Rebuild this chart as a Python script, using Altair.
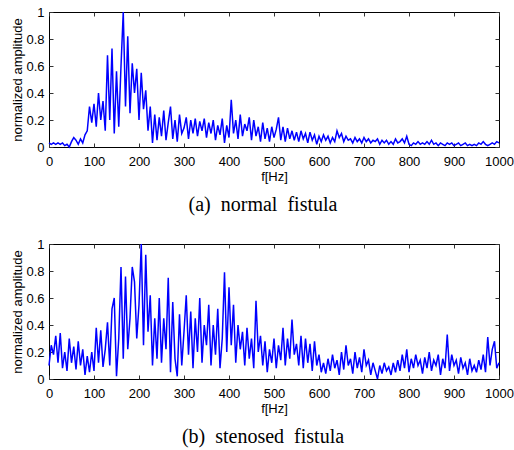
import altair as alt
import pandas as pd

freq = list(range(0, 1001, 5))

normal_amp = [
    0.03, 0.02, 0.03, 0.02, 0.03, 0.02, 0.03, 0.01, 0.02, 0.00,
    0.04, 0.07, 0.05, 0.02, 0.06, 0.03, 0.09, 0.12, 0.30, 0.18,
    0.32, 0.15, 0.40, 0.20, 0.34, 0.12, 0.68, 0.20, 0.73, 0.10,
    0.56, 0.15, 0.60, 1.00, 0.30, 0.82, 0.25, 0.62, 0.40, 0.58,
    0.20, 0.55, 0.28, 0.42, 0.12, 0.30, 0.03, 0.24, 0.05, 0.22,
    0.08, 0.27, 0.05, 0.18, 0.30, 0.06, 0.20, 0.04, 0.24, 0.10,
    0.14, 0.22, 0.06, 0.20, 0.10, 0.21, 0.08, 0.19, 0.12, 0.21,
    0.07, 0.18, 0.10, 0.20, 0.05, 0.16, 0.09, 0.21, 0.03, 0.16,
    0.07, 0.35, 0.10, 0.20, 0.06, 0.24, 0.08, 0.17, 0.12, 0.22,
    0.05, 0.20, 0.08, 0.15, 0.04, 0.18, 0.06, 0.14, 0.04, 0.15,
    0.07, 0.13, 0.22, 0.05, 0.15, 0.04, 0.14, 0.06, 0.12, 0.05,
    0.11, 0.04, 0.12, 0.06, 0.10, 0.03, 0.11, 0.05, 0.09, 0.02,
    0.08, 0.04, 0.09, 0.05, 0.08, 0.03, 0.07, 0.04, 0.12, 0.07,
    0.10, 0.04, 0.08, 0.05, 0.06, 0.03, 0.07, 0.04, 0.06, 0.03,
    0.07, 0.04, 0.06, 0.03, 0.05, 0.04, 0.06, 0.02, 0.05, 0.03,
    0.05, 0.02, 0.04, 0.02, 0.06, 0.03, 0.04, 0.06, 0.03, 0.08,
    0.02, 0.01, 0.03, 0.02, 0.04, 0.02, 0.03, 0.02, 0.04, 0.02,
    0.05, 0.02, 0.03, 0.01, 0.03, 0.02, 0.01, 0.03, 0.02, 0.03,
    0.01, 0.02, 0.03, 0.01, 0.02, 0.03, 0.01, 0.02, 0.01, 0.02,
    0.01, 0.03, 0.02, 0.04, 0.02, 0.01, 0.02, 0.03, 0.02, 0.04,
    0.03,
]

stenosed_amp = [
    0.10, 0.25, 0.18, 0.32, 0.12, 0.34, 0.08, 0.20, 0.06, 0.30,
    0.12, 0.24, 0.07, 0.28, 0.10, 0.22, 0.03, 0.17, 0.05, 0.20,
    0.06, 0.38, 0.12, 0.36, 0.09, 0.22, 0.42, 0.10, 0.52, 0.60,
    0.02, 0.30, 0.83, 0.15, 0.76, 0.22, 0.45, 0.83, 0.72, 0.30,
    0.55, 1.00, 0.25, 0.92, 0.35, 0.62, 0.10, 0.45, 0.15, 0.60,
    0.12, 0.45, 0.22, 0.75, 0.05, 0.57, 0.15, 0.02, 0.48, 0.10,
    0.35, 0.62, 0.18, 0.50, 0.08, 0.45, 0.20, 0.60, 0.12, 0.40,
    0.25, 0.55, 0.10, 0.40, 0.18, 0.52, 0.08, 0.30, 0.79, 0.20,
    0.68, 0.25, 0.55, 0.12, 0.40, 0.22, 0.35, 0.10, 0.38, 0.15,
    0.30, 0.08, 0.58, 0.20, 0.32, 0.10, 0.28, 0.05, 0.22, 0.12,
    0.30, 0.08, 0.25, 0.14, 0.38, 0.10, 0.30, 0.15, 0.44, 0.18,
    0.26, 0.10, 0.32, 0.08, 0.30, 0.12, 0.26, 0.06, 0.28, 0.10,
    0.18, 0.05, 0.12, 0.04, 0.15, 0.06, 0.18, 0.08, 0.14, 0.03,
    0.20, 0.07, 0.25, 0.10, 0.15, 0.04, 0.20, 0.08, 0.16, 0.05,
    0.22, 0.10, 0.14, 0.03, 0.12, 0.06, 0.00, 0.10, 0.04, 0.12,
    0.06, 0.09, 0.03, 0.12, 0.05, 0.14, 0.06, 0.18, 0.08, 0.22,
    0.05, 0.15, 0.08, 0.18, 0.10, 0.14, 0.04, 0.16, 0.08, 0.20,
    0.06, 0.14, 0.10, 0.18, 0.03, 0.15, 0.08, 0.33, 0.06, 0.18,
    0.10, 0.14, 0.04, 0.16, 0.08, 0.12, 0.03, 0.15, 0.06, 0.10,
    0.05, 0.14, 0.07, 0.18, 0.05, 0.31, 0.10, 0.22, 0.28, 0.08,
    0.12,
]

x_ticks = [0, 100, 200, 300, 400, 500, 600, 700, 800, 900, 1000]
y_ticks = [0, 0.2, 0.4, 0.6, 0.8, 1.0]
captions = ["(a)\u2002normal\u2002fistula", "(b)\u2002stenosed\u2002fistula"]

SANS = "Liberation Sans"
SERIF = "Liberation Serif"


def panel(values, caption):
    df = pd.DataFrame({"f": freq, "amp": values})
    xs = alt.Scale(domain=[0, 1000], nice=False, zero=False)
    ys = alt.Scale(domain=[0, 1], nice=False)
    base = alt.Chart(df)
    main = base.mark_line(color="#0000ff", strokeWidth=1.5).encode(
        x=alt.X("f:Q", scale=xs, axis=alt.Axis(
            orient="bottom", values=x_ticks, format="d", title="f[Hz]",
            ticks=False, domain=False, grid=False, labelFlush=False,
            labelPadding=8, titlePadding=2)),
        y=alt.Y("amp:Q", scale=ys, axis=alt.Axis(
            orient="left", values=y_ticks, format="~g", title="normalized amplitude",
            ticks=False, domain=False, grid=False, labelFlush=False,
            labelPadding=5, titlePadding=1)),
    )
    ticks_bl = base.mark_line(strokeOpacity=0).encode(
        x=alt.X("f:Q", scale=xs, axis=alt.Axis(
            orient="bottom", values=x_ticks, labels=False, title=None,
            domain=False, grid=False, tickSize=4, offset=-4)),
        y=alt.Y("amp:Q", scale=ys, axis=alt.Axis(
            orient="left", values=y_ticks, labels=False, title=None,
            domain=False, grid=False, tickSize=4, offset=-4)),
    )
    ticks_tr = base.mark_line(strokeOpacity=0).encode(
        x=alt.X("f:Q", scale=xs, axis=alt.Axis(
            orient="top", values=x_ticks, labels=False, title=None,
            domain=False, grid=False, tickSize=4, offset=-4)),
        y=alt.Y("amp:Q", scale=ys, axis=alt.Axis(
            orient="right", values=y_ticks, labels=False, title=None,
            domain=False, grid=False, tickSize=4, offset=-4)),
    )
    return alt.layer(main, ticks_bl, ticks_tr).resolve_axis(
        x="independent", y="independent"
    ).properties(
        width=450, height=135,
        title=alt.TitleParams(caption, orient="bottom", font=SERIF, fontSize=20,
                              fontWeight="normal", color="black", offset=12,
                              anchor="middle", dx=-11),
    )


chart = alt.vconcat(
    panel(normal_amp, captions[0]),
    panel(stenosed_amp, captions[1]),
    spacing=21,
).properties(
    padding={"left": 11, "top": 5, "right": 0, "bottom": 5},
    background="white",
).configure_view(
    stroke="black", strokeWidth=1
).configure_axis(
    labelFont=SANS, titleFont=SANS, labelFontSize=13, titleFontSize=13,
    labelColor="black", titleColor="black", titleFontWeight="normal",
    tickColor="#333333", tickWidth=1,
)

chart.save("out.html", embed_options={"renderer": "svg", "actions": False})
